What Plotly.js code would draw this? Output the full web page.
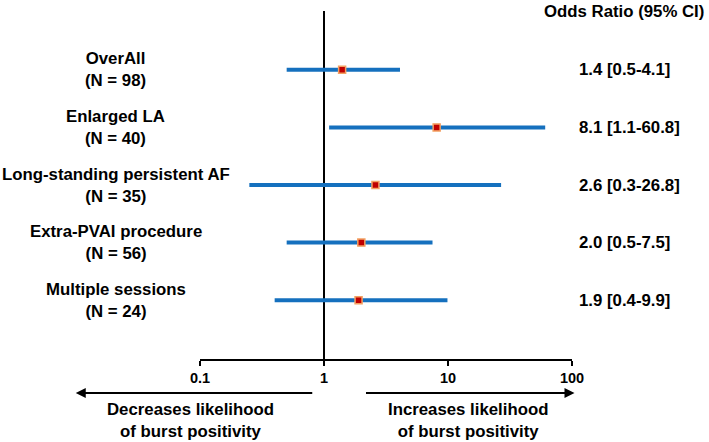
<!DOCTYPE html>
<html>
<head>
<meta charset="utf-8">
<script src="https://cdn.plot.ly/plotly-3.0.1.min.js"></script>
<style>html,body{margin:0;padding:0;background:#fff;}#chart{width:709px;height:442px;}</style>
</head>
<body>
<div id="chart"></div>
<script>
const categories = ["OverAll", "Enlarged LA", "Long-standing persistent AF", "Extra-PVAI procedure", "Multiple sessions"];
const nValues = [98, 40, 35, 56, 24];
const oddsRatio = [1.4, 8.1, 2.6, 2.0, 1.9];
const ciLower = [0.5, 1.1, 0.25, 0.5, 0.4];
const ciUpper = [4.1, 60.8, 26.8, 7.5, 9.9];
const ciLabels = ["1.4 [0.5-4.1]", "8.1 [1.1-60.8]", "2.6 [0.3-26.8]", "2.0 [0.5-7.5]", "1.9 [0.4-9.9]"];
const tickValues = [0.1, 1, 10, 100];
const tickLabels = ["0.1", "1", "10", "100"];

const FONT = "Liberation Sans, Arial, sans-serif";
const BLUE = "#1570be";
const FS = 16.8;
const nRows = categories.length;
const rowY = categories.map((_, i) => nRows - i);

const traces = [];
categories.forEach((c, i) => {
  traces.push({
    x: [ciLower[i], ciUpper[i]], y: [rowY[i], rowY[i]],
    mode: "lines", type: "scatter",
    line: {color: BLUE, width: 4},
    hoverinfo: "skip", showlegend: false
  });
});
traces.push({
  x: oddsRatio, y: rowY, mode: "markers", type: "scatter",
  marker: {symbol: "square", size: 7, color: "#c00000", line: {color: "#f4a060", width: 1.5}},
  showlegend: false
});

const annotations = [];
categories.forEach((c, i) => {
  annotations.push({
    xref: "paper", yref: "y", x: -0.2265, y: rowY[i],
    xanchor: "center", yanchor: "middle", showarrow: false,
    text: c + "<br>(N = " + nValues[i] + ")",
    font: {family: FONT, size: FS, color: "#000", weight: "bold"}
  });
  annotations.push({
    xref: "paper", yref: "y", x: 1.0147, y: rowY[i],
    xanchor: "left", yanchor: "middle", showarrow: false,
    text: ciLabels[i],
    font: {family: FONT, size: FS, color: "#000", weight: "bold"}
  });
});
annotations.push({
  xref: "paper", yref: "paper", x: 1.3606, y: 1.0,
  xanchor: "right", yanchor: "middle", showarrow: false,
  text: "Odds Ratio (95% CI)",
  font: {family: FONT, size: FS, color: "#000", weight: "bold"}
});
annotations.push({
  xref: "paper", yref: "paper", x: -0.0257, y: -0.176,
  xanchor: "center", yanchor: "middle", showarrow: false,
  text: "Decreases likelihood<br>of burst positivity",
  font: {family: FONT, size: FS, color: "#000", weight: "bold"}
});
annotations.push({
  xref: "paper", yref: "paper", x: 0.7193, y: -0.176,
  xanchor: "center", yanchor: "middle", showarrow: false,
  text: "Increases likelihood<br>of burst positivity",
  font: {family: FONT, size: FS, color: "#000", weight: "bold"}
});
// arrows
annotations.push({
  xref: "paper", yref: "paper", x: -0.334, y: -0.0978,
  ax: 238, ay: 0, axref: "pixel", ayref: "pixel",
  text: "", showarrow: true, arrowhead: 2, arrowsize: 1, arrowwidth: 2, arrowcolor: "#000", standoff: 0, startstandoff: 0
});
annotations.push({
  xref: "paper", yref: "paper", x: 1.0067, y: -0.0978,
  ax: -210, ay: 0, axref: "pixel", ayref: "pixel",
  text: "", showarrow: true, arrowhead: 2, arrowsize: 1, arrowwidth: 2, arrowcolor: "#000", standoff: 0, startstandoff: 0
});

const layout = {
  width: 709, height: 442,
  margin: {l: 199.5, r: 136.5, t: 11, b: 83.3, pad: 0},
  paper_bgcolor: "#fff", plot_bgcolor: "#fff",
  font: {family: FONT, color: "#000"},
  xaxis: {
    type: "log", range: [-1, 2],
    tickvals: tickValues, ticktext: tickLabels,
    showline: true, linecolor: "#000", linewidth: 2,
    ticks: "outside", ticklen: 5, tickwidth: 2, tickcolor: "#000",
    showgrid: false, zeroline: false, fixedrange: true,
    tickfont: {family: FONT, size: 14.5, color: "#000", weight: "bold"}
  },
  yaxis: {range: [-0.02, 6.02], visible: false, showgrid: false, zeroline: false, fixedrange: true},
  shapes: [{
    type: "line", xref: "x", yref: "paper", x0: 1, x1: 1, y0: 0, y1: 1,
    line: {color: "#000", width: 2}, layer: "below"
  }],
  annotations: annotations,
  showlegend: false
};

Plotly.newPlot("chart", traces, layout, {displayModeBar: false, staticPlot: true});
</script>
</body>
</html>
